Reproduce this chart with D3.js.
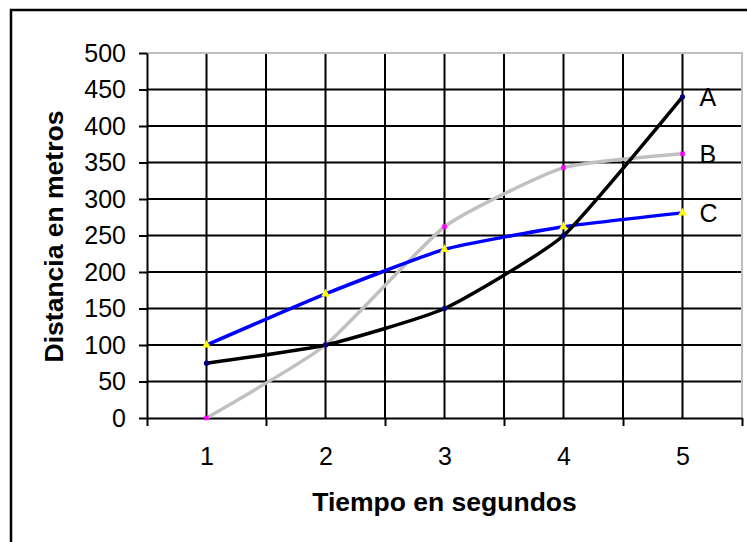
<!DOCTYPE html>
<html>
<head>
<meta charset="utf-8">
<script src="https://cdn.jsdelivr.net/npm/d3@7"></script>
<style>
  body { margin: 0; background: #fff; }
  svg text { font-family: "Liberation Sans", Arial, sans-serif; fill: #000; }
  .axis path, .axis line { stroke: #000; stroke-width: 2px; }
</style>
</head>
<body>
<div id="vis"></div>
<script>
const tiempo = [1, 2, 3, 4, 5];
const serieA = [75, 100, 150, 250, 440];
const serieB = [0, 100, 262, 343, 362];
const serieC = [100, 170, 231, 262, 281];
const yTicks = [0, 50, 100, 150, 200, 250, 300, 350, 400, 450, 500];
const nombres = ["A", "B", "C"];

const W = 747, H = 542;
const margin = { top: 53, right: 5, bottom: 124, left: 147 };

const svg = d3.select("#vis").append("svg")
  .attr("width", W).attr("height", H);

// outer chart frame (runs off the right and bottom edges)
svg.append("rect")
  .attr("x", 11).attr("y", 10)
  .attr("width", 800).attr("height", 600)
  .attr("fill", "none").attr("stroke", "#000").attr("stroke-width", 2.5);

const xScale = d3.scaleLinear().domain([0.5, 5.5]).range([margin.left, W - margin.right]);
const yScale = d3.scaleLinear().domain([0, 500]).range([H - margin.bottom, margin.top]);

// grid
const grid = svg.append("g");
grid.selectAll(".hg")
  .data(yTicks.filter(d => d > 0 && d < 500))
  .join("line")
  .attr("x1", xScale(0.5)).attr("x2", xScale(5.5))
  .attr("y1", d => yScale(d)).attr("y2", d => yScale(d))
  .attr("stroke", "#000").attr("stroke-width", 2);
grid.selectAll(".vg")
  .data(d3.range(1, 5.01, 0.5))
  .join("line")
  .attr("x1", d => xScale(d)).attr("x2", d => xScale(d))
  .attr("y1", yScale(0)).attr("y2", yScale(500))
  .attr("stroke", "#000").attr("stroke-width", 2);

// gray plot border (top and right)
svg.append("path")
  .attr("d", `M${xScale(0.5)},${yScale(500)}H${xScale(5.5)}V${yScale(0)}`)
  .attr("fill", "none").attr("stroke", "#c0c0c0").attr("stroke-width", 2);

// axes
svg.append("g")
  .attr("class", "axis")
  .attr("transform", `translate(${xScale(0.5)},0)`)
  .call(d3.axisLeft(yScale).tickValues(yTicks).tickSize(8).tickSizeOuter(0).tickPadding(13))
  .call(g => g.selectAll("text").attr("font-size", 25).attr("font-family", null));

svg.append("g")
  .attr("class", "axis")
  .attr("transform", `translate(0,${yScale(0)})`)
  .call(d3.axisBottom(xScale).tickValues(d3.range(0.5, 5.51, 1)).tickSize(8).tickSizeOuter(0).tickFormat(""));

svg.append("g")
  .attr("class", "axis")
  .attr("transform", `translate(0,${yScale(0)})`)
  .call(d3.axisBottom(xScale).tickValues(tiempo).tickSize(0).tickPadding(29).tickFormat(d3.format("d")))
  .call(g => g.select(".domain").remove())
  .call(g => g.selectAll("text").attr("font-size", 25).attr("font-family", null));

// axis titles
svg.append("text")
  .attr("x", (xScale(0.5) + xScale(5.5)) / 2)
  .attr("y", 511)
  .attr("text-anchor", "middle")
  .attr("font-size", 26.5).attr("font-weight", "bold")
  .text("Tiempo en segundos");

svg.append("text")
  .attr("transform", `translate(63,${(yScale(0) + yScale(500)) / 2 + 1}) rotate(-90)`)
  .attr("text-anchor", "middle")
  .attr("font-size", 26.5).attr("font-weight", "bold")
  .text("Distancia en metros");

// series
const series = [
  { name: nombres[0], values: serieA, stroke: "#000", marker: "#000080", sym: d3.symbolCircle, size: 22 },
  { name: nombres[1], values: serieB, stroke: "#c0c0c0", marker: "#ff00ff", sym: d3.symbolSquare, size: 20 },
  { name: nombres[2], values: serieC, stroke: "#0000ff", marker: "#ffff00", sym: d3.symbolTriangle, size: 34 },
];

const line = d3.line()
  .x((d, i) => xScale(tiempo[i]))
  .y(d => yScale(d))
  .curve(d3.curveCardinal.tension(0.5));

const drawOrder = [series[1], series[2], series[0]];
svg.selectAll(".serie")
  .data(drawOrder)
  .join("path")
  .attr("d", d => line(d.values))
  .attr("fill", "none")
  .attr("stroke", d => d.stroke)
  .attr("stroke-width", 3.5);

drawOrder.forEach(s => {
  svg.append("g").selectAll("path")
    .data(s.values)
    .join("path")
    .attr("transform", (d, i) => `translate(${xScale(tiempo[i])},${yScale(d)})`)
    .attr("d", d3.symbol(s.sym, s.size))
    .attr("fill", s.marker);
});

// end labels
svg.selectAll(".lbl")
  .data(series)
  .join("text")
  .attr("x", d => xScale(tiempo[tiempo.length - 1]) + 17)
  .attr("y", d => yScale(d.values[d.values.length - 1]))
  .attr("dy", "0.36em")
  .attr("font-size", 25)
  .text(d => d.name);
</script>
</body>
</html>
